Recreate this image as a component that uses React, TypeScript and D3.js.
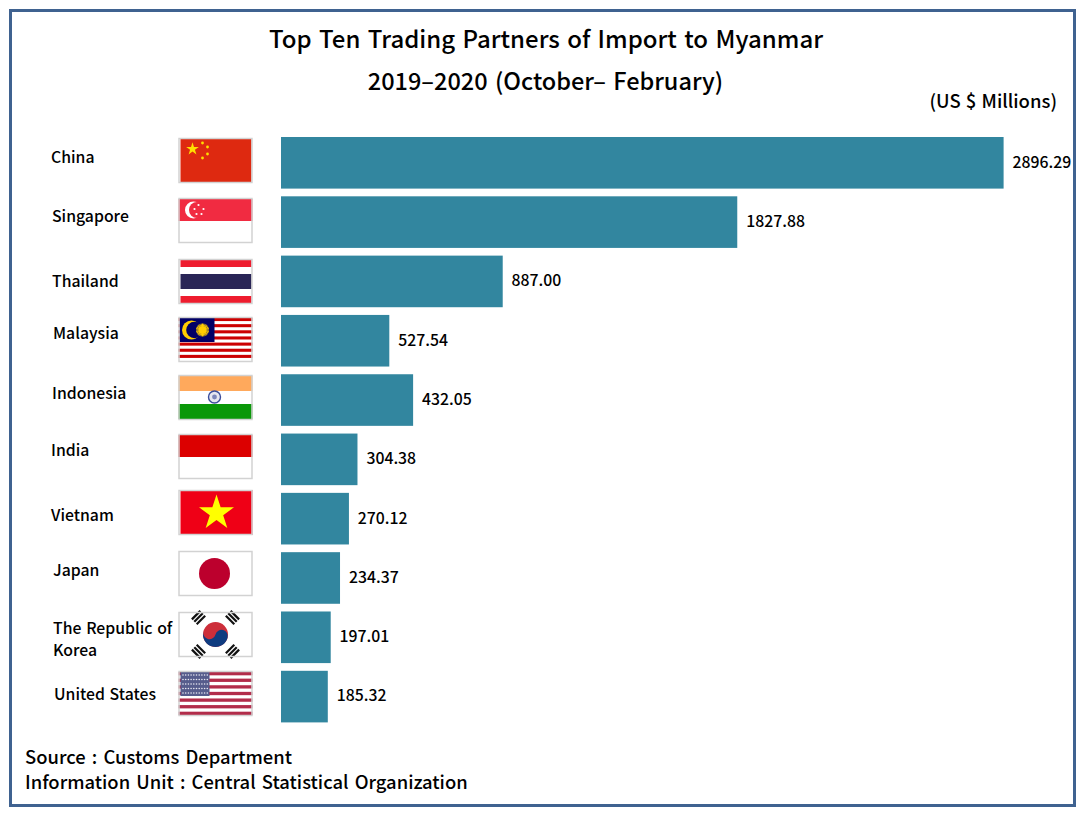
import * as d3 from "d3";

const countries = ["China", "Singapore", "Thailand", "Malaysia", "Indonesia", "India", "Vietnam", "Japan", "The Republic of|Korea", "United States"];
// the printed figure and the drawn bar disagree for Malaysia and Indonesia in the source, so both are kept
const valueLabels = ["2896.29", "1827.88", "887.00", "527.54", "432.05", "304.38", "270.12", "234.37", "197.01", "185.32"];
const barValues = [2896.29, 1827.88, 887.0, 432.05, 527.54, 304.38, 270.12, 234.37, 197.01, 185.32];
const flags = ["cn", "sg", "th", "my", "in", "id", "vn", "jp", "kr", "us"];

// hand placement of the row furniture, which is not quite regular in the source
const flagTop = [138, 198, 259, 317, 375, 434, 490, 551, 612, 671];
const labelLeft = [51, 52, 52, 53, 52, 51, 51, 53, 53, 54];
const labelMid = [159, 218, 283, 335, 395, 452, 517, 572, 630, 696];

const width = 1085;
const height = 819;
const font = "'Noto Sans CJK SC', 'Noto Sans', sans-serif";
const FLAG_W = 74;
const FLAG_H = 45;

const star = (size: number) => d3.symbol().type(d3.symbolStar).size(size)() || "";

const Band = ({ y, h, fill }: { y: number; h: number; fill: string }) => <rect x={0} y={y} width={FLAG_W} height={h} fill={fill} />;

const Stripes = ({ n, fill, y0, y1 }: { n: number; fill: string; y0: number; y1: number }) => {
  const s = (y1 - y0) / n;
  return (
    <g>
      {d3.range(0, n, 2).map((i) => (
        <rect key={i} x={0} y={y0 + i * s} width={FLAG_W} height={s} fill={fill} />
      ))}
    </g>
  );
};

const Flag = ({ code }: { code: string }) => {
  if (code === "cn") {
    return (
      <g>
        <rect x={2} y={1} width={71} height={43} fill="#de2910" />
        <path d={star(50)} transform="translate(14,11)" fill="#ffde00" />
        {[[24, 5], [29, 9], [29, 16], [24, 20]].map(([x, y]) => (
          <circle key={x + "-" + y} cx={x} cy={y} r={1.4} fill="#ffde00" />
        ))}
      </g>
    );
  }
  if (code === "sg") {
    return (
      <g>
        <Band y={1} h={22} fill="#f12b41" />
        <circle cx={15} cy={12} r={8.5} fill="#fff" />
        <circle cx={18.5} cy={12} r={8} fill="#f12b41" />
        {[[20, 7], [25, 11], [23, 16], [18, 16], [16, 11]].map(([x, y]) => (
          <circle key={x + "-" + y} cx={x} cy={y} r={1.1} fill="#fff" />
        ))}
      </g>
    );
  }
  if (code === "th") {
    return (
      <g>
        <rect x={2} y={1} width={71} height={7} fill="#ee1c2e" />
        <rect x={2} y={15} width={71} height={15} fill="#292556" />
        <rect x={2} y={37} width={71} height={7} fill="#ee1c2e" />
      </g>
    );
  }
  if (code === "my") {
    return (
      <g>
        <Stripes n={14} fill="#cc0001" y0={1} y1={44} />
        <rect x={1} y={1} width={35} height={24} fill="#010066" />
        <circle cx={13} cy={13} r={9.5} fill="#ffcc00" />
        <circle cx={16} cy={13} r={8.3} fill="#010066" />
        {d3.range(14).map((k) => (
          <line key={k} x1={24} y1={6.5} x2={24} y2={19.5} transform={`rotate(${k * (180 / 14)},24,13)`} stroke="#ffcc00" strokeWidth={1} />
        ))}
        <circle cx={24} cy={13} r={3.8} fill="#ffcc00" />
      </g>
    );
  }
  if (code === "in") {
    return (
      <g>
        <Band y={1} h={15} fill="#ffa95c" />
        <Band y={29} h={15} fill="#0a9808" />
        <circle cx={36} cy={22} r={6} fill="#e6e6f0" stroke="#3b4c9a" strokeWidth={1.4} />
        <circle cx={36} cy={22} r={2.4} fill="#7d86bb" />
      </g>
    );
  }
  if (code === "id") {
    return <Band y={1} h={22} fill="#dc0000" />;
  }
  if (code === "vn") {
    return (
      <g>
        <rect x={2} y={0} width={72} height={45} fill="#ef0016" />
        <path d={star(380)} transform="translate(38,23)" fill="#ffff00" />
      </g>
    );
  }
  if (code === "jp") {
    return <circle cx={36} cy={22.5} r={15.5} fill="#bc002d" />;
  }
  if (code === "kr") {
    const bars = [[-1, 45], [1, 45], [-1, -45], [1, -45]];
    return (
      <g transform="translate(37,22.5)">
        <circle r={12.5} fill="#cd2e3a" />
        <path d="M-12.5,0 A6.25,6.25 0 0 0 0,0 A6.25,6.25 0 0 1 12.5,0 A12.5,12.5 0 0 1 -12.5,0 Z" fill="#0f3c80" transform="rotate(15)" />
        {bars.map(([side, angle]) => (
          <g key={side + "/" + angle} transform={`rotate(${angle}) translate(${side * 24},0)`}>
            {[-3.4, 0, 3.4].map((o) => (
              <rect key={o} x={o - 1.1} y={-6} width={2.2} height={12} fill="#111" />
            ))}
          </g>
        ))}
      </g>
    );
  }
  // us
  return (
    <g>
      <Stripes n={13} fill="#b22c4a" y0={1} y1={44} />
      <rect x={2} y={1} width={29} height={24} fill="#565c8c" />
      {d3.range(5).map((r) =>
        d3.range(10).map((c) => (
          <circle key={r + "-" + c} cx={4.5 + c * 2.7} cy={4 + r * 4.5} r={0.8} fill="#e8e8f2" />
        ))
      )}
    </g>
  );
};

export default function App() {
  const x = d3.scaleLinear().domain([0, 2896.29]).range([281, 1003]);
  const y = d3.scaleBand<string>().domain(countries).range([137, 722.4]).paddingInner(0.13).paddingOuter(0);

  return (
    <svg width={width} height={height} style={{ position: "absolute", left: 0, top: 0 }} fontFamily={font} fontWeight={500} fill="#000">
      <rect x={0} y={0} width={width} height={height} fill="#fff" />
      <rect x={10.5} y={10.5} width={1064} height={795} fill="#fff" stroke="#3f6290" strokeWidth={3} />

      <text x={546} y={48} textAnchor="middle" fontSize={24} wordSpacing={2}>Top Ten Trading Partners of Import to Myanmar</text>
      <text x={545.5} y={90} textAnchor="middle" fontSize={23.5} wordSpacing={2}>2019–2020 (October– February)</text>
      <text x={1057} y={108} textAnchor="end" fontSize={18.5} wordSpacing={1}>(US $ Millions)</text>

      {countries.map((c, i) => (
        <g key={c}>
          <rect x={x(0)} y={y(c)} width={x(barValues[i]) - x(0) + 0.6} height={y.bandwidth()} fill="#32869f" />
          <text x={x(barValues[i]) + 9.5} y={(y(c) || 0) + y.bandwidth() / 2 - 1} dy="0.1em" dominantBaseline="middle" fontSize={15.8}>
            {valueLabels[i]}
          </text>
          <g transform={`translate(178.5,${flagTop[i]})`}>
            <rect x={0.5} y={0.5} width={FLAG_W - 1} height={FLAG_H - 1} fill="#fff" />
            <Flag code={flags[i]} />
            <rect x={0.5} y={0.5} width={FLAG_W - 1} height={FLAG_H - 1} fill="none" stroke="#d2d2d2" strokeWidth={1.5} />
          </g>
          {c.split("|").map((line, j) => (
            <text key={line} x={labelLeft[i]} y={labelMid[i] + j * 22} dominantBaseline="middle" fontSize={15.8} wordSpacing={1.2}>
              {line}
            </text>
          ))}
        </g>
      ))}

      <text x={25} y={763.5} fontSize={18.4} wordSpacing={2}>Source : Customs Department</text>
      <text x={25} y={788.5} fontSize={18.4} wordSpacing={2}>Information Unit : Central Statistical Organization</text>
    </svg>
  );
}
